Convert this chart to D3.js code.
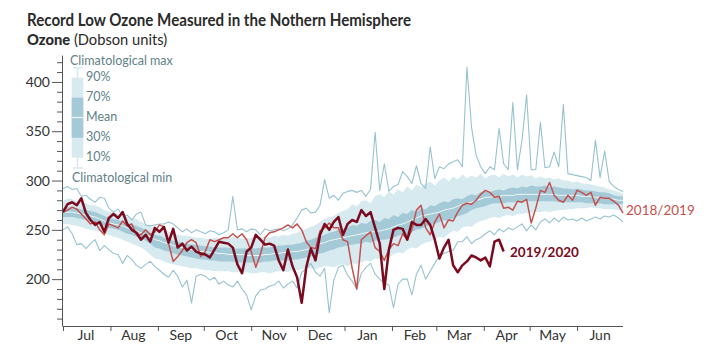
<!DOCTYPE html>
<html><head><meta charset="utf-8">
<script src="https://cdn.jsdelivr.net/npm/d3@7"></script>
<style>
html,body{margin:0;padding:0;background:#fff;}
svg{display:block;font-family:Lato,"Open Sans",sans-serif;}
</style></head>
<body><svg id="c" width="720" height="344"></svg>
<script>
// ---- data: every series sampled every 3 days from 1 Jul ----
const step = 3;
const months = ["Jul","Aug","Sep","Oct","Nov","Dec","Jan","Feb","Mar","Apr","May","Jun"];
const yMajorTicks = [200,250,300,350,400];

const climMax = [292,294,291,292,284,285,281,278,283,282,
272,268,271,264,265,260,266,268,255,254,
255,256,256,258,256,252,248,251,247,250,
248,246,249,248,245,247,250,284,250,251,
248,251,250,245,251,249,250,251,249,251,
255,262,270,272,267,268,275,301,282,285,
280,287,289,290,288,290,284,291,349,290,
317,289,294,296,309,304,297,315,297,292,
334,302,314,312,317,319,321,314,415,354,
326,314,307,314,311,353,317,311,379,311,
341,387,311,311,359,313,314,329,314,377,
307,306,305,304,303,300,341,303,330,299,
294,291,289];

const climMin = [250,253,246,235,236,231,236,240,229,234,
230,226,225,216,224,220,214,211,215,218,
213,209,205,202,209,203,192,199,176,203,
205,203,199,202,195,198,194,192,198,190,
184,169,183,189,190,193,194,198,191,195,
198,191,207,211,216,207,203,211,166,199,
212,214,204,198,190,206,212,216,205,200,
196,194,171,195,200,200,184,205,214,200,
208,216,224,226,228,229,238,238,243,236,
240,242,246,249,245,251,248,252,250,253,
256,249,255,250,258,261,257,262,258,263,
260,261,259,262,259,261,263,261,264,263,
265,262,258];

const p90 = [279,282,281,279,278,277,275,275,273,270,
268,268,266,264,263,262,261,258,256,254,
252,251,250,248,247,245,244,244,243,242,
242,241,241,242,242,241,241,243,242,241,
241,242,242,243,243,242,244,243,245,244,
246,247,249,251,253,255,258,261,263,264,
267,269,271,276,274,279,280,277,284,286,
283,289,286,291,288,294,290,296,293,297,
299,295,300,303,299,304,301,306,302,305,
303,307,302,305,306,303,307,304,306,303,
306,304,305,302,304,302,303,301,302,300,
300,298,299,297,297,296,295,294,293,291,
290,288,287];
const p70 = [272,273,273,272,271,270,269,268,266,264,
262,261,260,258,257,256,254,252,250,248,
245,244,242,241,239,238,237,236,235,235,
234,233,233,232,232,232,232,231,231,231,
231,231,231,232,232,232,233,234,234,235,
235,236,237,239,240,242,243,245,247,248,
250,251,252,255,254,257,256,259,260,258,
262,261,265,263,267,266,270,268,272,271,
275,274,277,279,278,281,282,281,284,286,
285,288,289,288,290,291,290,292,293,292,
294,293,295,294,294,295,293,294,293,292,
292,291,292,291,290,290,289,288,288,287,
285,284,284];
const climMean = [268,268,268,267,266,265,264,263,261,259,
257,256,255,254,252,251,249,247,245,243,
240,239,237,236,234,233,232,231,230,229,
228,228,227,227,226,226,225,225,225,225,
224,224,224,224,225,225,226,226,227,227,
228,228,229,230,231,233,236,237,239,240,
241,242,243,244,245,246,247,248,248,249,
250,251,253,255,256,258,260,262,264,265,
266,267,268,270,271,272,274,276,277,278,
280,281,283,283,284,284,285,285,285,286,
286,286,286,286,286,286,286,286,285,285,
285,285,285,284,284,284,283,283,282,282,
281,280,280];
const p30 = [263,263,263,262,261,260,258,257,255,254,
252,251,250,248,246,245,243,241,239,236,
232,231,229,228,226,225,224,223,222,221,
220,220,219,219,218,218,218,218,217,217,
217,217,217,217,218,218,219,219,219,219,
220,220,221,222,223,224,226,227,229,230,
232,233,234,235,236,236,238,237,239,240,
240,241,242,244,246,245,248,250,251,253,
255,256,258,260,259,262,264,265,267,270,
272,273,274,276,277,277,277,278,278,278,
279,279,279,279,279,279,279,279,278,278,
278,278,278,278,277,277,277,277,276,276,
276,276,276];
const p10 = [256,256,255,254,253,251,250,249,248,246,
245,243,242,240,238,236,234,232,229,225,
221,220,218,216,215,214,213,212,211,211,
210,209,209,208,208,208,208,207,207,207,
207,206,206,207,207,206,207,208,208,207,
209,209,210,211,211,210,212,213,213,212,
214,215,213,216,215,217,219,218,221,220,
223,222,225,227,226,230,232,231,235,237,
238,241,243,242,246,249,248,252,254,253,
257,259,260,262,263,262,264,265,264,266,
266,267,267,268,268,269,268,269,270,270,
271,271,272,272,272,273,272,272,271,271,
271,270,270];

const ozone1819 = [268,270,273,271,266,261,256,258,250,245,
256,254,252,259,254,256,245,245,250,245,
248,255,253,236,218,223,229,237,240,237,
223,228,240,238,240,242,242,246,242,246,
240,228,212,225,242,247,248,250,252,255,
252,256,250,238,232,231,249,252,257,252,
252,240,238,211,190,240,244,248,232,228,
219,230,236,234,246,240,250,270,275,252,
245,258,266,252,260,259,268,275,277,276,
280,286,290,288,283,284,272,273,270,279,
278,281,257,272,290,288,298,285,280,278,
285,280,290,288,285,288,275,283,282,282,
279,275,267];

const ozone1920 = [268,276,278,275,282,267,260,255,258,248,
262,266,262,268,256,250,247,240,245,238,
252,248,253,237,251,232,236,229,233,228,
226,225,222,230,238,237,236,232,215,206,
228,232,245,240,235,236,234,219,209,230,
213,202,176,212,231,219,245,256,250,258,
263,245,256,260,258,270,264,268,252,236,
190,230,250,252,251,240,258,255,255,261,
255,240,221,232,240,214,207,214,218,224,
222,219,222,213,238,240,228];

// ---- scales ----
const svg = d3.select("#c");
const start = new Date(2019,6,1), end = new Date(2020,6,1);
const x = d3.scaleTime().domain([start,end]).range([63,623]);
const y = d3.scaleLinear().domain([153,427]).range([325.5,55.3]);
const dayX = i => x(d3.timeDay.offset(start, Math.min(i*step,366)));

const bandRows = p90.map((v,i)=>({i,p90:v,p70:p70[i],m:climMean[i],p30:p30[i],p10:p10[i]}));
const series = arr => arr.map((v,i)=>({i,v}));

const cLight="#d6eaf0", cDark="#a3cad6", cClim="#97c3d1";

const area = (lo,hi)=>d3.area().x(r=>dayX(r.i)).y0(r=>y(r[lo])).y1(r=>y(r[hi]));
svg.append("path").datum(bandRows).attr("d",area("p10","p90")).attr("fill",cLight);
svg.append("path").datum(bandRows).attr("d",area("p30","p70")).attr("fill",cDark);
svg.append("path").datum(bandRows).attr("d",d3.line().x(r=>dayX(r.i)).y(r=>y(r.m)))
  .attr("fill","none").attr("stroke","#eef6f8").attr("stroke-width",1);

const line = d3.line().x(r=>dayX(r.i)).y(r=>y(r.v));
[climMax,climMin].forEach(a=>svg.append("path").datum(series(a)).attr("d",line)
  .attr("fill","none").attr("stroke",cClim).attr("stroke-width",1.1).attr("stroke-linejoin","round"));
svg.append("path").datum(series(ozone1819)).attr("d",line).attr("fill","none")
  .attr("stroke","#c4514f").attr("stroke-width",1.5).attr("stroke-linejoin","round");
svg.append("path").datum(series(ozone1920)).attr("d",line).attr("fill","none")
  .attr("stroke","#7b0a1e").attr("stroke-width",2.5).attr("stroke-linejoin","round");

// ---- axes ----
const axCol="#555";
const gy = svg.append("g").attr("transform","translate(62,0)");
gy.call(d3.axisLeft(y).tickValues(d3.range(160,421,10).filter(v=>v%50)).tickSize(5).tickFormat("").tickSizeOuter(0));
const gy2 = svg.append("g").attr("transform","translate(62,0)");
gy2.call(d3.axisLeft(y).tickValues(yMajorTicks).tickSize(10).tickPadding(2).tickSizeOuter(0));
[gy,gy2].forEach(g=>{g.selectAll("path,line").attr("stroke",axCol);
  g.selectAll("text").attr("fill","#333").style("font-size","14px").style("font-family","Lato");});

const gx = svg.append("g").attr("transform","translate(0,326)");
gx.call(d3.axisBottom(x).tickValues(d3.timeMonth.range(start,new Date(2020,5,2))).tickSize(5).tickFormat("").tickSizeOuter(0));
gx.selectAll("path,line").attr("stroke",axCol);
gx.select(".domain").attr("d","M62.5,0.5H623");
svg.append("g").selectAll("text").data(d3.timeMonth.range(start,end)).join("text")
  .attr("x",m=>x(d3.timeDay.offset(m,15))).attr("y",340).attr("text-anchor","middle")
  .attr("fill","#333").style("font-size","14px").text((m,i)=>months[i]);

// ---- titles ----
svg.append("text").attr("x",27).attr("y",26).attr("fill","#2b2b2b").style("font-size","16.5px")
  .style("font-weight","bold").attr("textLength",384).attr("lengthAdjust","spacingAndGlyphs")
  .text("Record Low Ozone Measured in the Nothern Hemisphere");
const st = svg.append("text").attr("x",27).attr("y",45).attr("fill","#2b2b2b").style("font-size","14.7px");
st.append("tspan").style("font-weight","900").text("Ozone");
st.append("tspan").text(" (Dobson units)");

// ---- legend ----
const lg = svg.append("g"), lc="#5f8188";
lg.append("line").attr("x1",77.5).attr("x2",77.5).attr("y1",67.7).attr("y2",168).attr("stroke",cLight).attr("stroke-width",1.5);
lg.append("line").attr("x1",72.7).attr("x2",82.7).attr("y1",67.7).attr("y2",67.7).attr("stroke",cLight).attr("stroke-width",1.5);
lg.append("line").attr("x1",72.7).attr("x2",82.7).attr("y1",168).attr("y2",168).attr("stroke",cLight).attr("stroke-width",1.5);
lg.append("rect").attr("x",71.7).attr("y",77.7).attr("width",11.6).attr("height",80).attr("fill",cLight);
lg.append("rect").attr("x",71.7).attr("y",97.7).attr("width",11.6).attr("height",40).attr("fill",cDark);
lg.append("line").attr("x1",71.7).attr("x2",83.3).attr("y1",117.5).attr("y2",117.5).attr("stroke","#eef6f8").attr("stroke-width",1.2);
const lgText = [["Climatological max",70,65],["90%",86,80.5],["70%",86,100.5],["Mean",86,120.5],["30%",86,140.5],["10%",86,160.5],["Climatological min",72,182]];
lg.selectAll("text").data(lgText).join("text").attr("x",t=>t[1]).attr("y",t=>t[2])
  .attr("fill",lc).style("font-size","12.5px").text(t=>t[0]);

// ---- series labels ----
svg.append("text").attr("x",626).attr("y",215).attr("fill","#c4514f").style("font-size","13.5px").text("2018/2019");
svg.append("text").attr("x",510).attr("y",257).attr("fill","#7b0a1e").style("font-size","13.5px").style("font-weight","bold").text("2019/2020");
</script></body></html>
